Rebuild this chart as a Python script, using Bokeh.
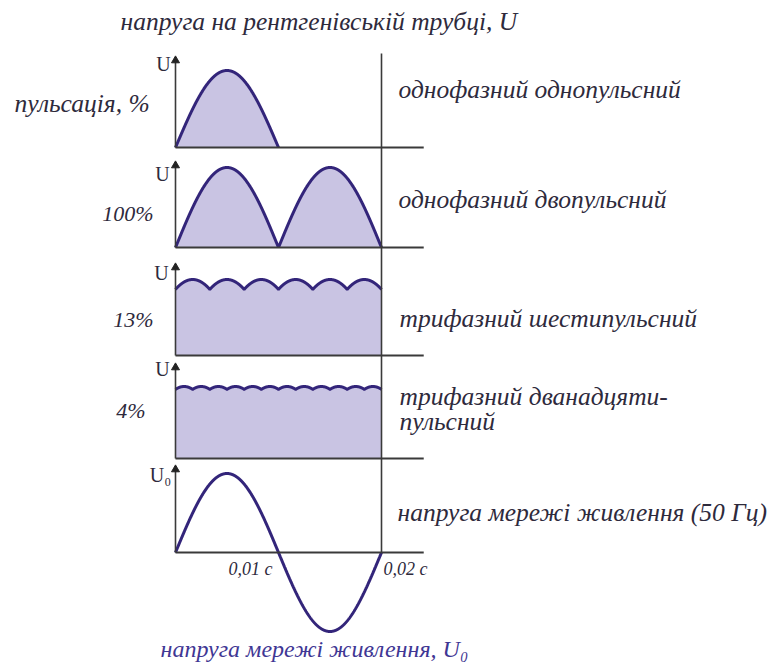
import numpy as np
from bokeh.plotting import figure
from bokeh.models import Range1d, ColumnDataSource
from bokeh.core.properties import value
from bokeh.embed import file_html
from bokeh.resources import INLINE

# ---------------- data ----------------
mains_freq_hz = 50
period_s = 1 / mains_freq_hz                 # one mains period, 0.02 s
pulse_counts = [1, 2, 6, 12]                  # rectifier pulses per period
ripple_pct = [100, 100, 13, 4]                # voltage ripple of each rectifier
ripple_labels = ["пульсація, %", "100%", "13%", "4%"]
mode_labels = ["однофазний однопульсний", "однофазний двопульсний",
               "трифазний шестипульсний", "трифазний дванадцяти-", "пульсний",
               "напруга мережі живлення (50 Гц)"]
axis_labels = ["U", "U", "U", "U", "U\u2080"]
time_ticks_s = [0.01, 0.02]
time_tick_labels = ["0,01 с", "0,02 с"]
title_top = "напруга на рентгенівській трубці, U"
title_bottom = "напруга мережі живлення, U\u2080"

# ---------------- layout / style ----------------
W, H = 774, 665
T0_PX = 175                    # where t = 0 sits
T_SCALE = 206 / period_s       # pixels per second
BASE_PX = [147, 247, 355, 458, 552]   # baseline of each strip
AMP_PX = [77, 80, 76, 72, 79]         # height of a unit peak in each strip
TOP_PX = [56, 161, 263, 363, 465]     # arrow tip of each U axis
AXIS_EXT_S = 0.0241                   # time axis runs a little past 0.02 s

CURVE = "#33257a"
FILL = "#c9c4e3"
AXIS = "#3a3a3a"
TEXT = "#2e2a3c"
TEXT_BLUE = "#3f3794"
FONT = value("Liberation Serif")
BIG = 25.5      # size of the Cyrillic captions
NUM = 22        # size of the percentages

p = figure(width=W, height=H, x_range=Range1d(0, W), y_range=Range1d(H, 0),
           output_backend="svg", toolbar_location=None, min_border=0,
           x_axis_location=None, y_axis_location=None,
           outline_line_color=None, background_fill_color="white",
           border_fill_color="white")
p.grid.visible = False

p.extra_x_ranges = {"t": Range1d(-T0_PX / T_SCALE, (W - T0_PX) / T_SCALE)}
p.extra_y_ranges = {f"u{i}": Range1d((b - H) / a, b / a)
                    for i, (b, a) in enumerate(zip(BASE_PX, AMP_PX))}

t = np.linspace(0, period_s, 1201)
omega = 2 * np.pi * mains_freq_hz


def rectified(pulses, ripple):
    """Output voltage of a p-pulse rectifier, peak = 1."""
    if pulses == 1:
        return np.clip(np.sin(omega * t), 0, None)
    phase = (t * pulses / period_s) % 1.0
    theta = (phase - 0.5) * 2 * np.pi / pulses
    natural = 1 - np.cos(np.pi / pulses)
    return 1 - (ripple / 100) * (1 - np.cos(theta)) / natural


# rectified waveforms (filled)
for i, (n, r) in enumerate(zip(pulse_counts, ripple_pct)):
    v = rectified(n, r)
    if n == 1:
        keep = t <= period_s / 2 + 1e-12
        tt, vv = t[keep], v[keep]
    else:
        tt, vv = t, v
    rn = f"u{i}"
    p.varea(x=tt, y1=0, y2=vv, fill_color=FILL, fill_alpha=1.0,
            x_range_name="t", y_range_name=rn)
    p.line(tt, vv, line_color=CURVE, line_width=3,
           x_range_name="t", y_range_name=rn)

# mains sine (no fill)
mains = np.sin(omega * t)
p.line(t, mains, line_color=CURVE, line_width=3,
       x_range_name="t", y_range_name="u4")

# axes of every strip
for i, (b, a, top) in enumerate(zip(BASE_PX, AMP_PX, TOP_PX)):
    rn = f"u{i}"
    p.segment(x0=[0], y0=[0], x1=[AXIS_EXT_S], y1=[0], line_color=AXIS,
              line_width=2, x_range_name="t", y_range_name=rn)
    v_tip = (b - top - 5) / a
    p.segment(x0=[0], y0=[0], x1=[0], y1=[v_tip], line_color=AXIS,
              line_width=1.6, x_range_name="t", y_range_name=rn)
    p.scatter(x=[0], y=[(b - top - 4) / a], marker="triangle", size=8,
              fill_color="#222222", line_color="#222222",
              x_range_name="t", y_range_name=rn)

# the 0.02 s marker running through every strip
p.segment(x0=[period_s], y0=[53], x1=[period_s], y1=[BASE_PX[-1]],
          line_color=AXIS, line_width=1.6, x_range_name="t")

# ---------------- texts ----------------
def texts(xs, ys, labels, size, align="left", color=TEXT, style="italic",
          baseline="middle"):
    src = ColumnDataSource(dict(x=xs, y=ys, text=labels))
    p.text(x="x", y="y", text="text", source=src, text_font=FONT,
           text_font_size=f"{size}px", text_font_style=style,
           text_color=color, text_align=align, text_baseline=baseline)

texts([120], [21], [title_top], BIG)
texts([160], [648], [title_bottom], 24, color=TEXT_BLUE)

texts([14], [103], [ripple_labels[0]], BIG)
texts([153, 153, 145], [213, 319, 410], ripple_labels[1:], NUM, align="right")

texts([398, 398, 399, 399, 399, 397], [89, 199, 318, 396, 421, 512],
      mode_labels, BIG)

texts([163, 162, 161, 162, 160], [63, 173, 272, 368, 474], axis_labels, 20,
      align="center", style="normal")

texts([228, 383], [568, 568], time_tick_labels, 18)

open("out.html", "w").write(file_html(p, INLINE))
